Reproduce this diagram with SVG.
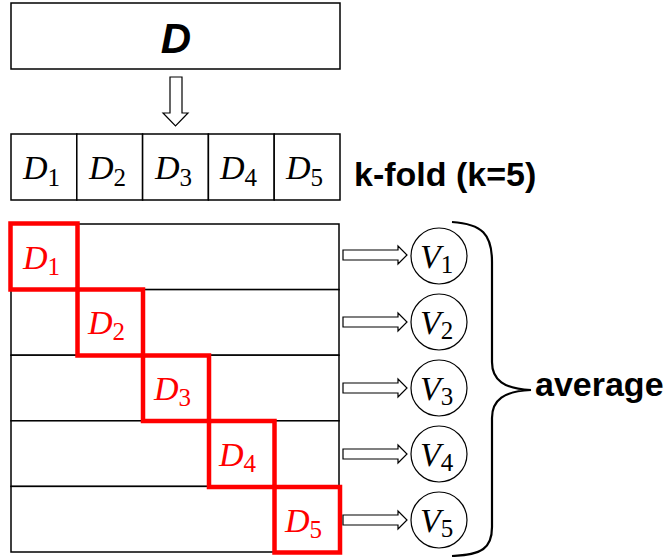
<svg xmlns="http://www.w3.org/2000/svg" width="664" height="557" viewBox="0 0 664 557">
<style>
.box{fill:#fff;stroke:#000;stroke-width:1.5}
.red{fill:none;stroke:#ff0000;stroke-width:4.5}
.arr{fill:#fff;stroke:#000;stroke-width:1.2;stroke-linejoin:miter}
.m{font-family:"Liberation Serif",serif;font-style:italic;font-size:34px}
.s{font-family:"Liberation Serif",serif;font-style:normal;font-size:25px}
.lbl{font-family:"Liberation Sans",Arial,sans-serif;font-weight:bold;font-size:34px;fill:#000}
.circ{fill:#fff;stroke:#000;stroke-width:1.2}
.brace{fill:none;stroke:#000;stroke-width:2.2}
</style>
<rect width="664" height="557" fill="#fff"/>
<g id="dataset">
<rect class="box" x="11" y="3" width="329" height="66"/>
<text x="176" y="53" text-anchor="middle" font-family="Liberation Sans, Arial, sans-serif" font-weight="bold" font-style="italic" font-size="42">D</text>
</g>
<g id="split">
<rect class="box" x="11" y="134" width="65.8" height="66"/>
<rect class="box" x="76.8" y="134" width="65.8" height="66"/>
<rect class="box" x="142.6" y="134" width="65.8" height="66"/>
<rect class="box" x="208.4" y="134" width="65.8" height="66"/>
<rect class="box" x="274.2" y="134" width="65.8" height="66"/>
<text x="23" y="179"><tspan class="m">D</tspan><tspan class="s" dy="7">1</tspan></text>
<text x="89" y="179"><tspan class="m">D</tspan><tspan class="s" dy="7">2</tspan></text>
<text x="155" y="179"><tspan class="m">D</tspan><tspan class="s" dy="7">3</tspan></text>
<text x="220" y="179"><tspan class="m">D</tspan><tspan class="s" dy="7">4</tspan></text>
<text x="286" y="179"><tspan class="m">D</tspan><tspan class="s" dy="7">5</tspan></text>
</g>
<text id="kfold" class="lbl" x="354" y="186">k-fold (k=5)</text>
<g id="folds">
<rect class="box" x="11" y="224" width="328" height="65.6"/>
<rect class="box" x="11" y="289.6" width="328" height="65.6"/>
<rect class="box" x="11" y="355.2" width="328" height="65.6"/>
<rect class="box" x="11" y="420.8" width="328" height="65.6"/>
<rect class="box" x="11" y="486.4" width="328" height="65.6"/>
</g>
<g id="validation" fill="#ff0000">
<rect class="red" x="10.5" y="223.5" width="67" height="66"/>
<rect class="red" x="77.5" y="289.5" width="65.5" height="66"/>
<rect class="red" x="143" y="355.5" width="66" height="65.5"/>
<rect class="red" x="209" y="421" width="65.5" height="66"/>
<rect class="red" x="274.5" y="487" width="65.5" height="65.5"/>
<text x="23" y="269"><tspan class="m">D</tspan><tspan class="s" dy="6">1</tspan></text>
<text x="88" y="334"><tspan class="m">D</tspan><tspan class="s" dy="6">2</tspan></text>
<text x="154" y="400"><tspan class="m">D</tspan><tspan class="s" dy="6">3</tspan></text>
<text x="219" y="466"><tspan class="m">D</tspan><tspan class="s" dy="6">4</tspan></text>
<text x="285" y="532"><tspan class="m">D</tspan><tspan class="s" dy="6">5</tspan></text>
</g>
<g id="connectors">
<path class="arr" d="M170,77 H182 V113 H188 L175.5,126 L163,113 H170 Z"/>
<path class="arr" d="M343,250 H398 V246 L407,255 L398,264 V260 H343 Z"/>
<path class="arr" d="M343,317 H398 V313 L407,322 L398,331 V327 H343 Z"/>
<path class="arr" d="M343,383 H398 V379 L407,388 L398,397 V393 H343 Z"/>
<path class="arr" d="M343,449 H398 V445 L407,454 L398,463 V459 H343 Z"/>
<path class="arr" d="M343,515 H398 V511 L407,520 L398,529 V525 H343 Z"/>
<path class="brace" d="M452,222 C482,224 492,234 492,262 L492,362 C492,380 504,389 531,390 C504,391 492,400 492,418 L492,527 C492,548 482,555 452,556"/>
</g>
<g id="V1"><circle class="circ" cx="439" cy="256" r="28"/><text x="420" y="268"><tspan class="m">V</tspan><tspan class="s" dy="5">1</tspan></text></g>
<g id="V2"><circle class="circ" cx="439" cy="322" r="28"/><text x="420" y="334"><tspan class="m">V</tspan><tspan class="s" dy="5">2</tspan></text></g>
<g id="V3"><circle class="circ" cx="439" cy="388" r="28"/><text x="420" y="400"><tspan class="m">V</tspan><tspan class="s" dy="5">3</tspan></text></g>
<g id="V4"><circle class="circ" cx="439" cy="454" r="28"/><text x="420" y="466"><tspan class="m">V</tspan><tspan class="s" dy="5">4</tspan></text></g>
<g id="V5"><circle class="circ" cx="439" cy="520" r="28"/><text x="420" y="532"><tspan class="m">V</tspan><tspan class="s" dy="5">5</tspan></text></g>
<text id="average" class="lbl" x="535" y="396">average</text>
</svg>
